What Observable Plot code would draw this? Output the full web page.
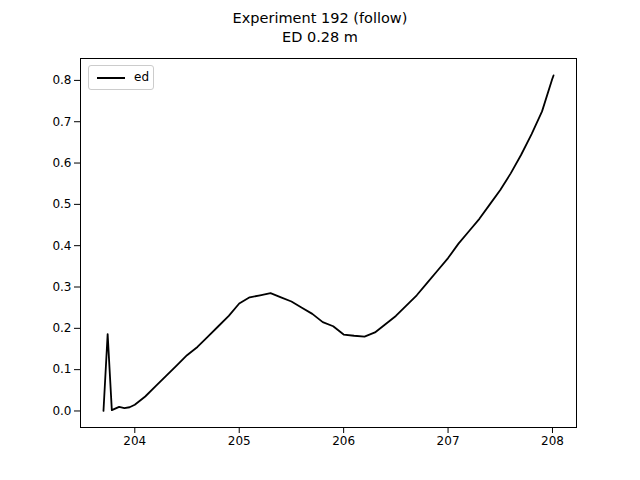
<!DOCTYPE html><html><head><meta charset="utf-8">
<script src="https://cdn.jsdelivr.net/npm/d3@7"></script>
<script src="https://cdn.jsdelivr.net/npm/@observablehq/plot@0.6"></script>
<style>body{margin:0;background:#fff;font-family:"DejaVu Sans",sans-serif}#wrap{position:relative;width:640px;height:480px}
#title{position:absolute;top:9px;left:0;width:640px;text-align:center;font-size:14.5px;line-height:19px}
#leg{position:absolute;left:88px;top:65px;width:66px;height:25px;border:1px solid #ccc;border-radius:3px;background:#fff;font-size:12px;box-sizing:border-box}
#leg span.l{position:absolute;left:8px;top:11px;width:28px;border-top:2px solid #000}
#leg span.t{position:absolute;left:45px;top:4px}</style></head><body>
<div id="wrap"><div id="title">Experiment 192 (follow)<br>ED 0.28 m</div><div id="c"></div><div id="leg"><span class="l"></span><span class="t">ed</span></div></div>
<script>
const xs=[203.70,203.74,203.78,203.85,203.9,203.95,204.0,204.1,204.2,204.3,204.4,204.5,204.6,204.7,204.8,204.9,205.0,205.1,205.2,205.3,205.4,205.5,205.6,205.7,205.8,205.9,206.0,206.1,206.2,206.3,206.4,206.5,206.6,206.7,206.8,206.9,207.0,207.1,207.2,207.3,207.4,207.5,207.6,207.7,207.8,207.9,208.0,208.01];
const ed=[0,0.186,0.002,0.01,0.007,0.009,0.015,0.035,0.06,0.085,0.11,0.135,0.155,0.18,0.205,0.23,0.26,0.275,0.28,0.285,0.275,0.265,0.25,0.235,0.215,0.205,0.185,0.182,0.18,0.19,0.21,0.23,0.255,0.28,0.31,0.34,0.37,0.405,0.435,0.465,0.5,0.535,0.575,0.62,0.67,0.725,0.805,0.812];
const xticks=[204,205,206,207,208];
const yticks=[0,0.1,0.2,0.3,0.4,0.5,0.6,0.7,0.8];
const data=xs.map((x,i)=>({x,y:ed[i]}));
const p=Plot.plot({width:640,height:480,marginTop:58,marginLeft:80,marginRight:64,marginBottom:53,
 style:{fontFamily:"DejaVu Sans",fontSize:"12px",color:"#000"},
 x:{domain:[203.48,208.23],ticks:xticks,tickFormat:d3.format("d"),label:null,tickSize:4},
 y:{domain:[-0.04,0.853],ticks:yticks,tickFormat:d3.format(".1f"),label:null,tickSize:4},
 marks:[Plot.frame({stroke:"#000"}),Plot.axisX({ticks:xticks,tickFormat:d3.format("d"),label:null,fontSize:12}),Plot.axisY({ticks:yticks,tickFormat:d3.format(".1f"),label:null,fontSize:12}),
 Plot.line(data,{x:"x",y:"y",stroke:"#000",strokeWidth:1.8})]});
document.getElementById("c").appendChild(p);
</script></body></html>
